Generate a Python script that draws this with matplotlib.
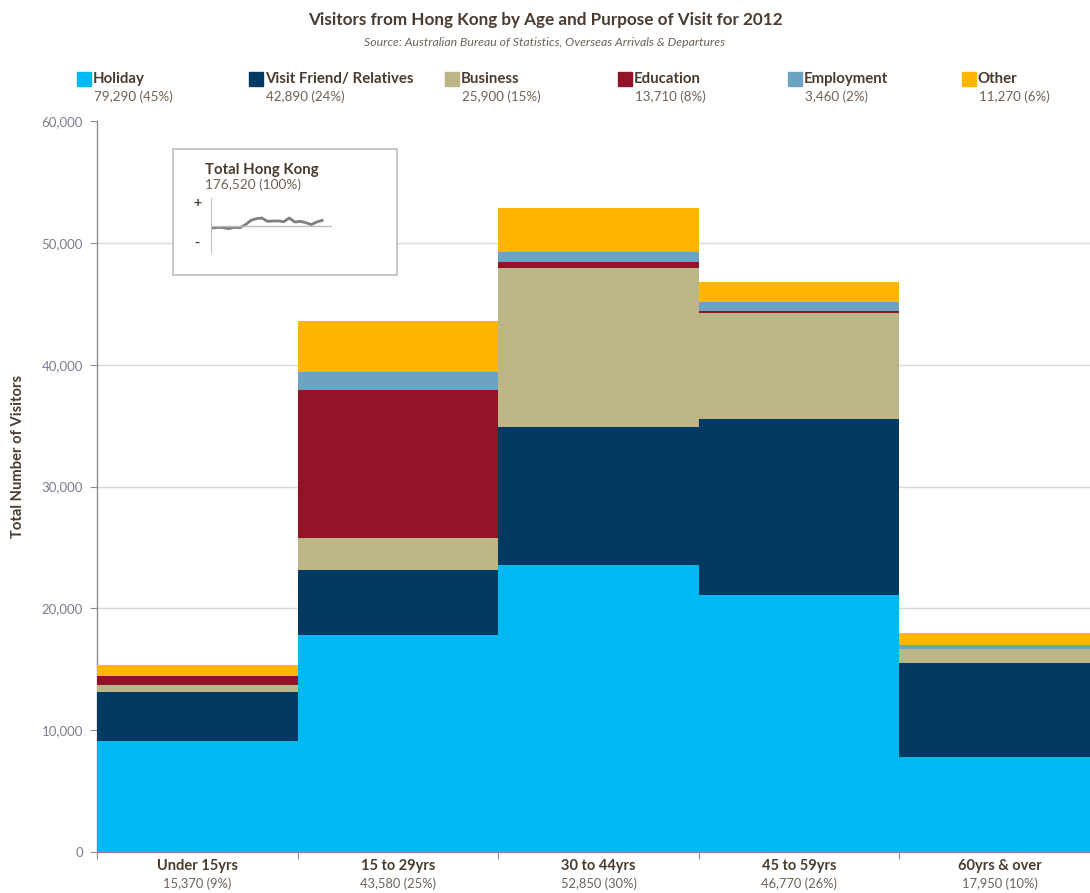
"""Visitors from Hong Kong by age group and purpose of visit, 2012 (stacked bars)."""

import matplotlib
matplotlib.use("Agg")
import matplotlib.pyplot as plt
from matplotlib.patches import Rectangle
from matplotlib.ticker import FuncFormatter

plt.rcParams["font.family"] = ["Lato", "DejaVu Sans"]

AGE_GROUPS = ["Under 15yrs", "15 to 29yrs", "30 to 44yrs", "45 to 59yrs", "60yrs & over"]
AGE_TOTALS = ["15,370 (9%)", "43,580 (25%)", "52,850 (30%)", "46,770 (26%)", "17,950 (10%)"]

PURPOSES = ["Holiday", "Visit Friend/ Relatives", "Business", "Education", "Employment", "Other"]
PURPOSE_TOTALS = ["79,290 (45%)", "42,890 (24%)", "25,900 (15%)", "13,710 (8%)", "3,460 (2%)", "11,270 (6%)"]

HOLIDAY = [9100, 17800, 23580, 21100, 7800]
VFR = [4050, 5350, 11280, 14450, 7700]
BUSINESS = [550, 2620, 13050, 8650, 1150]
EDUCATION = [770, 12150, 490, 200, 0]
EMPLOYMENT = [0, 1480, 820, 740, 350]
OTHER = [900, 4180, 3630, 1630, 950]

# sparkline of total Hong Kong visitors (relative to baseline, arbitrary units)
SPARK = [-7, -5, -6, -9, -5, -6, 3, 16, 21, 23, 13, 14, 14, 12, 23, 11, 13, 9, 3, 11, 16]

COLORS = ["#00B9F2", "#023A62", "#BCB585", "#921328", "#6CA3C2", "#FFB600"]
C_TITLE = "#4a3b2e"
C_SUB = "#6e6155"
C_TICK = "#7d7b8e"

W, H = 1090, 893
fig = plt.figure(figsize=(W / 100, H / 100), dpi=100)
ax = fig.add_axes([97 / W, 1 - 852 / H, 1 - 97 / W, (852 - 121) / H])

series = [HOLIDAY, VFR, BUSINESS, EDUCATION, EMPLOYMENT, OTHER]
x = list(range(len(AGE_GROUPS)))
bottom = [0] * len(x)
for vals, col in zip(series, COLORS):
    ax.bar(x, vals, width=1.0, bottom=bottom, align="edge", color=col,
           linewidth=0, zorder=3)
    bottom = [b + v for b, v in zip(bottom, vals)]

ax.set_xlim(0, 4.95)
ax.set_ylim(0, 60000)
ax.set_yticks(range(0, 60001, 10000))
ax.yaxis.set_major_formatter(FuncFormatter(lambda v, p: f"{int(v):,}"))
for yv in range(10000, 60000, 10000):
    ax.axhline(yv, color="#d9d9d9", linewidth=1.0, zorder=1)

for s in ("top", "right"):
    ax.spines[s].set_visible(False)
for s in ("left", "bottom"):
    ax.spines[s].set_color("#8c8c8c")
    ax.spines[s].set_linewidth(1.0)

ax.tick_params(axis="y", direction="out", length=5, color="#8c8c8c",
               labelsize=9.5, labelcolor=C_TICK, pad=5)
ax.set_xticks(x)
ax.set_xticklabels([])
ax.tick_params(axis="x", direction="out", length=5, color="#8c8c8c")

for i, (name, tot) in enumerate(zip(AGE_GROUPS, AGE_TOTALS)):
    ax.text(i + 0.5, -0.0195, name, transform=ax.get_xaxis_transform(),
            ha="center", va="center", fontsize=10.5, fontweight="bold", color=C_TITLE)
    ax.text(i + 0.5, -0.044, tot, transform=ax.get_xaxis_transform(),
            ha="center", va="center", fontsize=9.3, color=C_SUB)

fig.text(18 / W, 1 - 456 / H, "Total Number of Visitors", rotation=90,
         ha="center", va="center", fontsize=10.6, fontweight="bold", color=C_TITLE)

# title
fig.text(0.5, 1 - 20 / H, "Visitors from Hong Kong by Age and Purpose of Visit for 2012",
         ha="center", va="center", fontsize=12.3, fontweight="bold", color=C_TITLE)
fig.text(0.5, 1 - 42 / H,
         "Source: Australian Bureau of Statistics, Overseas Arrivals & Departures",
         ha="center", va="center", fontsize=8.8, fontstyle="italic", color=C_SUB)

# legend across the top
leg_x = [77, 249, 445, 618, 788, 962]
for lx, name, tot, col in zip(leg_x, PURPOSES, PURPOSE_TOTALS, COLORS):
    fig.patches.append(Rectangle((lx / W, 1 - 86 / H), 14 / W, 14 / H,
                                 transform=fig.transFigure, color=col))
    fig.text((lx + 16) / W, 1 - 79 / H, name, ha="left", va="center",
             fontsize=10.8, fontweight="bold", color=C_TITLE)
    fig.text((lx + 17) / W, 1 - 97 / H, tot, ha="left", va="center",
             fontsize=9.6, color=C_SUB)

# inset box with sparkline
fig.patches.append(Rectangle((173 / W, 1 - 275 / H), (397 - 173) / W, (275 - 149) / H,
                             transform=fig.transFigure, facecolor="white",
                             edgecolor="#bdbdbd", linewidth=1.2, zorder=5))
fig.text(205 / W, 1 - 170 / H, "Total Hong Kong", ha="left", va="center",
         fontsize=10.8, fontweight="bold", color=C_TITLE, zorder=6)
fig.text(205 / W, 1 - 185 / H, "176,520 (100%)", ha="left", va="center",
         fontsize=9.8, color=C_SUB, zorder=6)
fig.text(197 / W, 1 - 203 / H, "+", ha="center", va="center",
         fontsize=10, fontweight="bold", color=C_TITLE, zorder=6)
fig.text(197 / W, 1 - 243 / H, "-", ha="center", va="center",
         fontsize=10, fontweight="bold", color=C_TITLE, zorder=6)

sp = fig.add_axes([211 / W, 1 - 253 / H, (332 - 211) / W, (253 - 198) / H], zorder=6)
sp.set_facecolor("none")
sp.plot(range(len(SPARK)), SPARK, color="#7f7f7f", linewidth=2.0)
sp.axhline(0, color="#bfbfbf", linewidth=1.0)
sp.set_xlim(-0.3, len(SPARK) + 0.8)
sp.set_ylim(-82, 83)
sp.set_xticks([])
sp.set_yticks([])
for s in ("top", "right", "bottom"):
    sp.spines[s].set_visible(False)
sp.spines["left"].set_color("#bfbfbf")

fig.savefig("out.png", dpi=100)
